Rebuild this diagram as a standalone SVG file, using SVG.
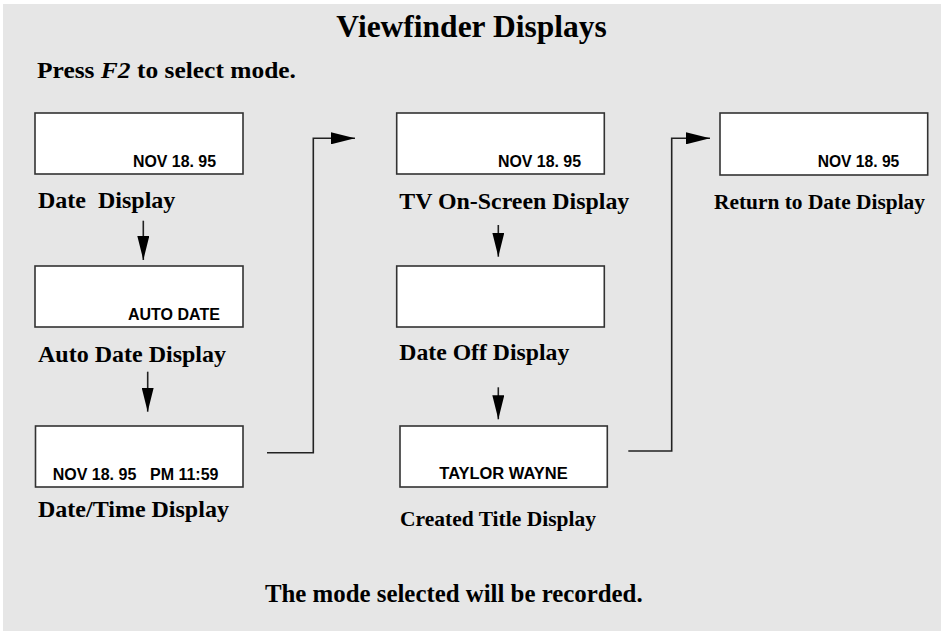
<svg xmlns="http://www.w3.org/2000/svg" width="943" height="631" viewBox="0 0 943 631">
<style>
.screen{fill:#ffffff;stroke:#333333;stroke-width:1.6}
.lcd{font-family:"Liberation Sans",Arial,sans-serif;font-weight:bold;font-size:16px;fill:#000}
.lbl{font-family:"Liberation Serif","Times New Roman",serif;font-weight:bold;font-size:24px;fill:#000}
.conn{fill:none;stroke:#222222;stroke-width:1.6}
</style>
<defs>
<marker id="ah" markerUnits="userSpaceOnUse" markerWidth="24" markerHeight="12" refX="24" refY="6" orient="auto" viewBox="0 0 24 12">
<path d="M0,0 L24,6 L0,12 z" fill="#000"/>
</marker>
</defs>
<rect x="3" y="4" width="938" height="627" fill="#e6e6e6"/>
<text x="471.5" y="37" text-anchor="middle" font-family="'Liberation Serif','Times New Roman',serif" font-weight="bold" font-size="31.5" fill="#000">Viewfinder Displays</text>
<text x="37" y="78" class="lbl" style="font-size:23px" textLength="259" lengthAdjust="spacingAndGlyphs">Press <tspan font-style="italic">F2</tspan> to select mode.</text>

<g id="date-display">
<rect class="screen" x="35" y="113" width="208" height="61"/>
<text class="lcd" x="133" y="167" textLength="83" lengthAdjust="spacingAndGlyphs">NOV 18. 95</text>
<text class="lbl" x="38" y="207.5" xml:space="preserve">Date  Display</text>
</g>
<g id="auto-date-display">
<rect class="screen" x="35" y="266" width="208" height="61"/>
<text class="lcd" x="128" y="319.5">AUTO DATE</text>
<text class="lbl" x="38" y="362">Auto Date Display</text>
</g>
<g id="date-time-display">
<rect class="screen" x="35.5" y="426" width="207.5" height="61"/>
<text class="lcd" x="52.7" y="479.5">NOV 18. 95</text>
<text class="lcd" x="150" y="479.5">PM 11:59</text>
<text class="lbl" x="38" y="516.5">Date/Time Display</text>
</g>
<g id="tv-on-screen-display">
<rect class="screen" x="396.7" y="113" width="207.6" height="61"/>
<text class="lcd" x="498" y="167" textLength="83" lengthAdjust="spacingAndGlyphs">NOV 18. 95</text>
<text class="lbl" x="399.3" y="209" textLength="230" lengthAdjust="spacingAndGlyphs">TV On-Screen Display</text>
</g>
<g id="date-off-display">
<rect class="screen" x="396.7" y="266" width="207.6" height="61"/>
<text class="lbl" x="399.3" y="360" textLength="170" lengthAdjust="spacingAndGlyphs">Date Off Display</text>
</g>
<g id="created-title-display">
<rect class="screen" x="400" y="426" width="207.3" height="61"/>
<text class="lcd" x="439.3" y="479" textLength="128.4" lengthAdjust="spacingAndGlyphs">TAYLOR WAYNE</text>
<text class="lbl" x="400" y="525.5" style="font-size:22px" textLength="196" lengthAdjust="spacingAndGlyphs">Created Title Display</text>
</g>
<g id="return-to-date-display">
<rect class="screen" x="720" y="113" width="207.7" height="62"/>
<text class="lcd" x="817.7" y="167" textLength="81.6" lengthAdjust="spacingAndGlyphs">NOV 18. 95</text>
<text class="lbl" x="714" y="209" style="font-size:21px" textLength="211" lengthAdjust="spacingAndGlyphs">Return to Date Display</text>
</g>
<text x="453.8" y="601.5" text-anchor="middle" font-family="'Liberation Serif','Times New Roman',serif" font-weight="bold" font-size="25" fill="#000" textLength="377.7" lengthAdjust="spacingAndGlyphs">The mode selected will be recorded.</text>

<g id="connectors">
<path class="conn" d="M143.3,220.7 V260" marker-end="url(#ah)"/>
<path class="conn" d="M147.7,371.7 V411.7" marker-end="url(#ah)"/>
<path class="conn" d="M267,452.7 H313.3 V138.3 H355" marker-end="url(#ah)"/>
<path class="conn" d="M498.3,225 V256.7" marker-end="url(#ah)"/>
<path class="conn" d="M498.3,387.3 V419.3" marker-end="url(#ah)"/>
<path class="conn" d="M628.3,451 H671.7 V138.3 H710" marker-end="url(#ah)"/>
</g>
</svg>
